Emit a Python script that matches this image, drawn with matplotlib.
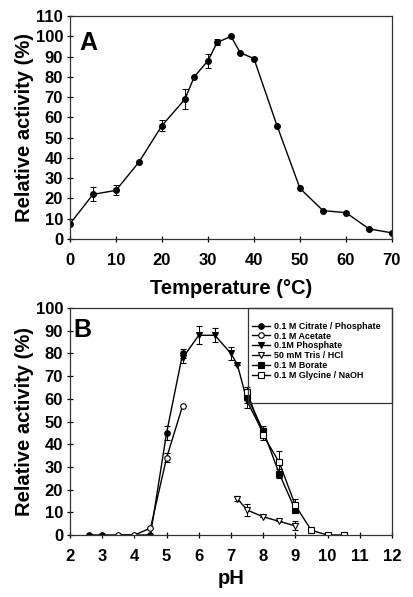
import matplotlib
matplotlib.use("Agg")
import matplotlib.pyplot as plt
from matplotlib.patches import Rectangle

plt.rcParams['font.family'] = ['Liberation Sans', 'DejaVu Sans']

# Panel A: temperature
temp = [0, 5, 10, 15, 20, 25, 27, 30, 32, 35, 37, 40, 45, 50, 55, 60, 65, 70]
temp_act = [7.5, 22, 24, 38, 56, 69, 80, 88, 97, 100, 92, 89, 56, 25, 14, 13, 5, 3]
temp_err = [0, 3.5, 2.5, 0, 2.5, 5, 0, 3.5, 1.5, 0, 0, 0, 0, 0, 0, 0, 0, 0]

# Panel B: pH series
cit_ph = [2.6, 3.0, 4.5, 5.0, 5.5]
cit_act = [0, 0, 0, 45, 80]
cit_err = [0, 0, 0, 3, 2]

ace_ph = [3.5, 4.0, 4.5, 5.0, 5.5]
ace_act = [0, 0, 3, 34, 57]
ace_err = [0, 0, 0, 2, 0]

pho_ph = [5.5, 6.0, 6.5, 7.0, 7.2, 7.5, 8.0]
pho_act = [78, 88, 88, 80, 75, 59, 45]
pho_err = [2, 4, 3, 3, 0, 3, 2]

tris_ph = [7.2, 7.5, 8.0, 8.5, 9.0]
tris_act = [16, 11, 8, 6, 4]
tris_err = [1, 2.5, 0, 0, 2]

bor_ph = [7.5, 8.0, 8.5, 9.0]
bor_act = [61, 46, 27, 11]
bor_err = [3, 2, 2, 0]

gly_ph = [7.5, 8.0, 8.5, 9.0, 9.5, 10.0, 10.5]
gly_act = [63, 44, 32, 13, 2, 0, 0]
gly_err = [2, 2, 5, 3, 0, 0, 0]

labels = ['0.1 M Citrate / Phosphate', '0.1 M Acetate', '0.1M Phosphate',
          '50 mM Tris / HCl', '0.1 M Borate', '0.1 M Glycine / NaOH']

fig = plt.figure(figsize=(4.13, 5.97), dpi=100)
axA = fig.add_axes([0.1695, 0.5997, 0.7795, 0.3733])
axB = fig.add_axes([0.1695, 0.1039, 0.7795, 0.3801])

tick_fs = 12
lab_fs = 14.5

def style(ax):
    for s in ax.spines.values():
        s.set_linewidth(0.9)
        s.set_color('#333333')
    ax.tick_params(direction='inout', length=4, width=0.9, labelsize=tick_fs)
    ax.tick_params(axis='x', pad=8)
    ax.tick_params(axis='y', pad=3)
    for t in ax.get_xticklabels() + ax.get_yticklabels():
        t.set_fontweight('bold')

kw = dict(color='black', lw=1.0, ms=4.0, elinewidth=0.7, capsize=2, capthick=0.7)

axA.errorbar(temp, temp_act, yerr=temp_err, marker='o', mfc='black', mec='black', **kw)
axA.set_xlim(0, 70)
axA.set_ylim(0, 110)
axA.set_xticks(range(0, 71, 10))
axA.set_yticks(range(0, 111, 10))
axA.set_xlabel('Temperature (°C)', fontsize=lab_fs, fontweight='bold', labelpad=8)
axA.set_ylabel('Relative activity (%)', fontsize=lab_fs, fontweight='bold', labelpad=1)
axA.text(0.03, 0.935, 'A', transform=axA.transAxes, fontsize=18, fontweight='bold', va='top', ha='left')
style(axA)

series = [
    (cit_ph, cit_act, cit_err, 'o', 'black'),
    (ace_ph, ace_act, ace_err, 'o', 'white'),
    (pho_ph, pho_act, pho_err, 'v', 'black'),
    (tris_ph, tris_act, tris_err, 'v', 'white'),
    (bor_ph, bor_act, bor_err, 's', 'black'),
    (gly_ph, gly_act, gly_err, 's', 'white'),
]
handles = []
for (x, y, e, m, fc), lab in zip(series, labels):
    h = axB.errorbar(x, y, yerr=e, marker=m, mfc=fc, mec='black', mew=0.8, label=lab, **kw)
    handles.append(h)

axB.set_xlim(2, 12)
axB.set_ylim(0, 100)
axB.set_xticks(range(2, 13))
axB.set_yticks(range(0, 101, 10))
axB.set_xlabel('pH', fontsize=lab_fs, fontweight='bold', labelpad=4)
axB.set_ylabel('Relative activity (%)', fontsize=lab_fs, fontweight='bold', labelpad=1)
axB.text(0.01, 0.955, 'B', transform=axB.transAxes, fontsize=18, fontweight='bold', va='top', ha='left')
axB.add_patch(Rectangle((0.554, 0.58), 0.446, 0.42, transform=axB.transAxes, fill=False,
                        edgecolor='#333333', lw=0.9, zorder=5, clip_on=False))
leg = axB.legend(handles=[h[0] for h in handles], labels=labels, loc='upper left',
                 bbox_to_anchor=(0.565, 0.94), fontsize=6.4, frameon=False,
                 handlelength=2.0, handletextpad=0.5, labelspacing=0.1, borderaxespad=0,
                 borderpad=0)
for t in leg.get_texts():
    t.set_fontweight('bold')
style(axB)

fig.savefig('out.png', dpi=100)
